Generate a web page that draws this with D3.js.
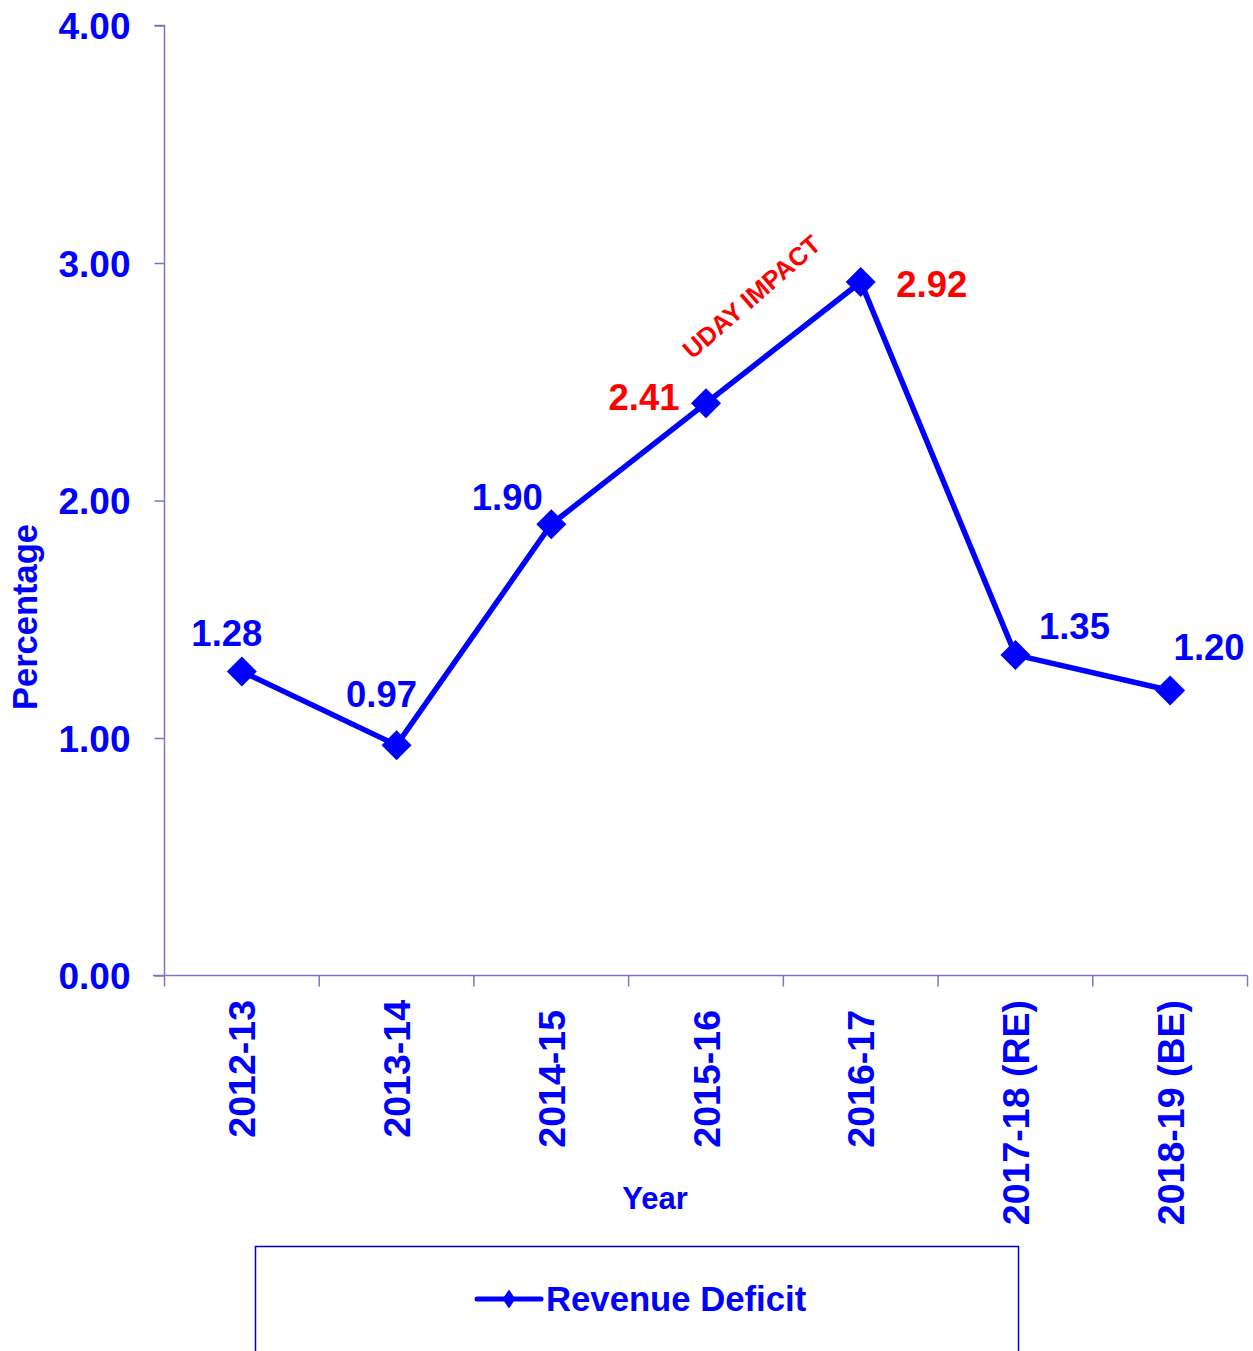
<!DOCTYPE html>
<html><head><meta charset="utf-8">
<script src="https://cdn.jsdelivr.net/npm/d3@7"></script>
<style>body{margin:0;background:#fff}svg{display:block}text{font-family:"Liberation Sans",Arial,sans-serif;font-weight:bold}</style>
</head><body>
<svg id="c" width="1253" height="1351"></svg>
<script>
const categories = ["2012-13","2013-14","2014-15","2015-16","2016-17","2017-18 (RE)","2018-19 (BE)"];
const revenueDeficit = [1.28, 0.97, 1.90, 2.41, 2.92, 1.35, 1.20];
const labelColors = ["#0000ff","#0000ff","#0000ff","#ff0000","#ff0000","#0000ff","#0000ff"];
const yTicks = [0, 1, 2, 3, 4];
const seriesName = "Revenue Deficit";
const annotation = "UDAY IMPACT";
// label offsets (dx, dy of label centre/baseline from point)
const labelOffsets = [[-15,-26],[-15,-38],[-44,-14],[-62,7],[71,15],[59,-16],[39,-31]];
const catLabelShift = [0, 0, 10, 10, 10, 0, 0];

const svg = d3.select("#c");
const axisColor = "#7878c0";
const blue = "#0000ff";
const x = d3.scaleBand().domain(categories).range([164.5, 1247.5]);
const y = d3.scaleLinear().domain([0, 4]).range([975.5, 25.5]);
const cx = d => x(d) + x.bandwidth() / 2;

// Y axis
const yAxis = svg.append("g").attr("transform","translate(164.5,0)")
  .call(d3.axisLeft(y).tickValues(yTicks).tickSize(10).tickPadding(24).tickFormat(d3.format(".2f")));
yAxis.select(".domain").attr("stroke", axisColor).attr("stroke-width",1.5).attr("d","M-10,25.5H0V975.5");
yAxis.selectAll(".tick line").attr("stroke", axisColor).attr("stroke-width",1.5);
yAxis.selectAll(".tick text").attr("fill", blue).style("font-size","37px").attr("dy","0.36em");

// X axis
const xAxis = svg.append("g").attr("transform","translate(0,975.5)")
  .call(d3.axisBottom(x).tickSize(0).tickFormat(""));
xAxis.select(".domain").attr("stroke", axisColor).attr("stroke-width",1.5).attr("d","M153,0H1247.5");
xAxis.selectAll(".tick").remove();
const bounds = categories.map(c => x(c)).concat([x(categories[categories.length-1]) + x.bandwidth()]);
xAxis.selectAll("line.bt").data(bounds).join("line").attr("class","bt")
  .attr("x1", d => d).attr("x2", d => d).attr("y1", 0).attr("y2", 11)
  .attr("stroke", axisColor).attr("stroke-width",1.5);

// Category labels
svg.append("g").selectAll("text").data(categories).join("text")
  .attr("transform", (d,i) => `translate(${cx(d)+13.5},${1000 + catLabelShift[i]}) rotate(-90)`)
  .attr("text-anchor","end").attr("fill", blue).style("font-size","37.5px")
  .text(d => d);

// Axis titles
svg.append("text").attr("x", 655).attr("y", 1209).attr("text-anchor","middle")
  .attr("fill", blue).style("font-size","31px").text("Year");
svg.append("text").attr("transform","translate(37,617) rotate(-90)").attr("text-anchor","middle")
  .attr("fill", blue).style("font-size","34.5px").text("Percentage");

// Line
const line = d3.line().x((d,i) => cx(categories[i])).y(d => y(d));
svg.append("path").datum(revenueDeficit).attr("d", line).attr("fill","none")
  .attr("stroke", blue).attr("stroke-width",5.5).attr("stroke-linejoin","miter");

// Markers
const diamond = (s) => `M0,${-s}L${s},0L0,${s}L${-s},0Z`;
svg.append("g").selectAll("path").data(revenueDeficit).join("path")
  .attr("transform", (d,i) => `translate(${cx(categories[i])},${y(d)})`)
  .attr("d", diamond(15)).attr("fill", blue);

// Data labels
svg.append("g").selectAll("text").data(revenueDeficit).join("text")
  .attr("x", (d,i) => cx(categories[i]) + labelOffsets[i][0])
  .attr("y", (d,i) => y(d) + labelOffsets[i][1])
  .attr("text-anchor","middle").attr("fill", (d,i) => labelColors[i])
  .style("font-size","36.5px").text(d => d.toFixed(2));

// Annotation
const ax = (cx(categories[3]) + cx(categories[4]))/2 - 26;
const ay = (y(revenueDeficit[3]) + y(revenueDeficit[4]))/2 - 39;
svg.append("text").attr("transform", `translate(${ax},${ay}) rotate(-41)`)
  .attr("text-anchor","middle").attr("fill","#ff0000").style("font-size","25.5px").text(annotation);

// Legend
const lg = svg.append("g");
lg.append("rect").attr("x",255.5).attr("y",1246.5).attr("width",763).attr("height",200)
  .attr("fill","none").attr("stroke","#0000cc").attr("stroke-width",1.5);
lg.append("line").attr("x1",477).attr("x2",541).attr("y1",1299).attr("y2",1299)
  .attr("stroke", blue).attr("stroke-width",5).attr("stroke-linecap","round");
lg.append("path").attr("transform","translate(509,1299) scale(0.8,1.2)").attr("d", diamond(8)).attr("fill", blue);
lg.append("text").attr("x",546).attr("y",1311).attr("fill", blue).style("font-size","34.7px").text(seriesName);
</script>
</body></html>
